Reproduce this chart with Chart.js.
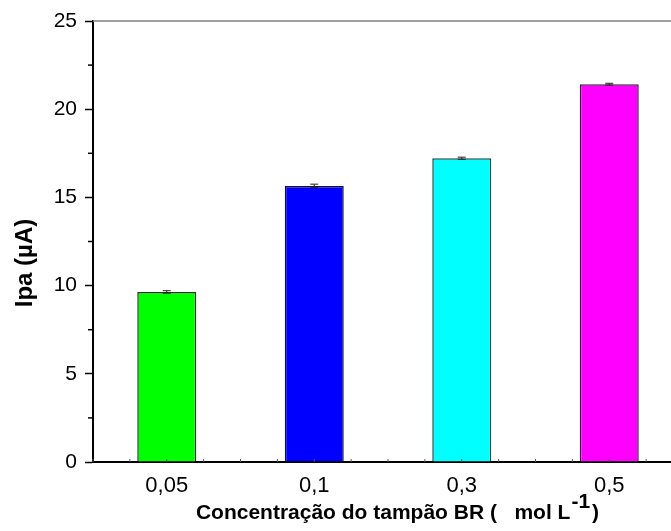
<!DOCTYPE html>
<html>
<head>
<meta charset="utf-8">
<script src="https://cdn.jsdelivr.net/npm/chart.js@4"></script>
<style>
  html, body { margin: 0; padding: 0; background: #fff; overflow: hidden; }
</style>
</head>
<body>
<canvas id="tampao" width="700" height="531"></canvas>
<script>
// concentração do tampão BR (mol L-1) e corrente de pico anódica (µA)
var concentracoes = ['0,05', '0,1', '0,3', '0,5'];
var ipa = [9.64, 15.65, 17.22, 21.42];
var erros = [0.07, 0.1, 0.06, 0.05];
var cores = ['#00ff00', '#0000ff', '#00ffff', '#ff00ff'];
var bordas = ['#1e3a1e', '#101040', '#1a4a4a', '#4a104a'];
var ticksY = [0, 5, 10, 15, 20, 25];

var fonte = '"Liberation Sans", Arial, sans-serif';

// barras de erro, marcas menores, borda superior e títulos dos eixos
var extras = {
  id: 'extras',
  afterDatasetsDraw: function (chart) {
    var c = chart.ctx;
    var x = chart.scales.x;
    var y = chart.scales.y;
    var area = chart.chartArea;

    c.save();
    // barras de erro
    c.strokeStyle = '#222';
    c.lineWidth = 1;
    ipa.forEach(function (v, i) {
      var px = x.getPixelForValue(i);
      var top = y.getPixelForValue(v + erros[i]);
      var bot = y.getPixelForValue(v - erros[i]);
      c.beginPath();
      c.moveTo(px, top); c.lineTo(px, bot);
      c.moveTo(px - 4, top); c.lineTo(px + 4, top);
      c.moveTo(px - 4, bot); c.lineTo(px + 4, bot);
      c.stroke();
    });

    // borda superior
    c.strokeStyle = '#808080';
    c.lineWidth = 1.5;
    c.beginPath();
    c.moveTo(area.left, area.top);
    c.lineTo(chart.width, area.top);
    c.stroke();

    // marcas menores do eixo y
    c.strokeStyle = '#000';
    c.lineWidth = 1.5;
    for (var m = 2.5; m < 25; m += 5) {
      var py = y.getPixelForValue(m);
      c.beginPath();
      c.moveTo(area.left - 5, py); c.lineTo(area.left, py);
      c.stroke();
    }

    // marcas menores do eixo x (para dentro)
    var passo = x.getPixelForValue(1) - x.getPixelForValue(0);
    c.strokeStyle = '#555';
    c.lineWidth = 1;
    for (var i = 0; i < concentracoes.length; i++) {
      for (var k = -2; k < 2; k++) {
        var px2 = x.getPixelForValue(i) + k * passo / 4;
        c.beginPath();
        c.moveTo(px2, area.bottom); c.lineTo(px2, area.bottom - 3);
        c.stroke();
      }
    }

    // título do eixo y
    c.fillStyle = '#000';
    c.font = 'bold 24px ' + fonte;
    c.textAlign = 'center';
    c.textBaseline = 'middle';
    c.translate(25, 263);
    c.rotate(-Math.PI / 2);
    c.fillText('Ipa (µA)', 0, 0);
    c.restore();

    // título do eixo x com expoente
    c.save();
    c.fillStyle = '#000';
    c.font = 'bold 21px ' + fonte;
    c.textBaseline = 'alphabetic';
    var t1 = 'Concentração do tampão BR (   mol L';
    var t2 = '-1';
    var t3 = ')';
    var w1 = c.measureText(t1).width;
    var w2 = c.measureText(t2).width;
    var w3 = c.measureText(t3).width;
    var x0 = 397 - (w1 + w2 + w3 + 2) / 2;
    c.fillText(t1, x0, 519);
    c.fillText(t2, x0 + w1 + 1, 508);
    c.fillText(t3, x0 + w1 + w2 + 3, 519);
    c.restore();
  }
};

var ctx = document.getElementById('tampao').getContext('2d');

var grafico = new Chart(ctx, {
  type: 'bar',
  data: {
    labels: concentracoes,
    datasets: [{
      data: ipa,
      backgroundColor: cores,
      borderColor: bordas,
      borderWidth: 1.5,
      borderSkipped: 'bottom',
      barPercentage: 0.4,
      categoryPercentage: 1
    }]
  },
  options: {
    responsive: false,
    animation: false,
    layout: { padding: { top: 21, right: 17, left: 0, bottom: 0 } },
    plugins: {
      legend: { display: false },
      tooltip: { enabled: false }
    },
    scales: {
      x: {
        grid: { display: false, drawTicks: false },
        border: { display: true, color: '#000', width: 2 },
        ticks: {
          color: '#000',
          font: { family: fonte, size: 22 },
          padding: 11,
          maxRotation: 0
        },
        afterFit: function (s) { s.height = 69; }
      },
      y: {
        min: 0,
        max: 25,
        afterBuildTicks: function (s) {
          s.ticks = ticksY.map(function (v) { return { value: v }; });
        },
        grid: {
          drawOnChartArea: false,
          drawTicks: true,
          tickLength: 8,
          tickWidth: 1.5,
          tickColor: '#000'
        },
        border: { display: true, color: '#000', width: 2 },
        ticks: {
          color: '#000',
          font: { family: fonte, size: 21 },
          padding: 8
        },
        afterFit: function (s) { s.width = 93; }
      }
    }
  },
  plugins: [extras]
});
</script>
</body>
</html>
